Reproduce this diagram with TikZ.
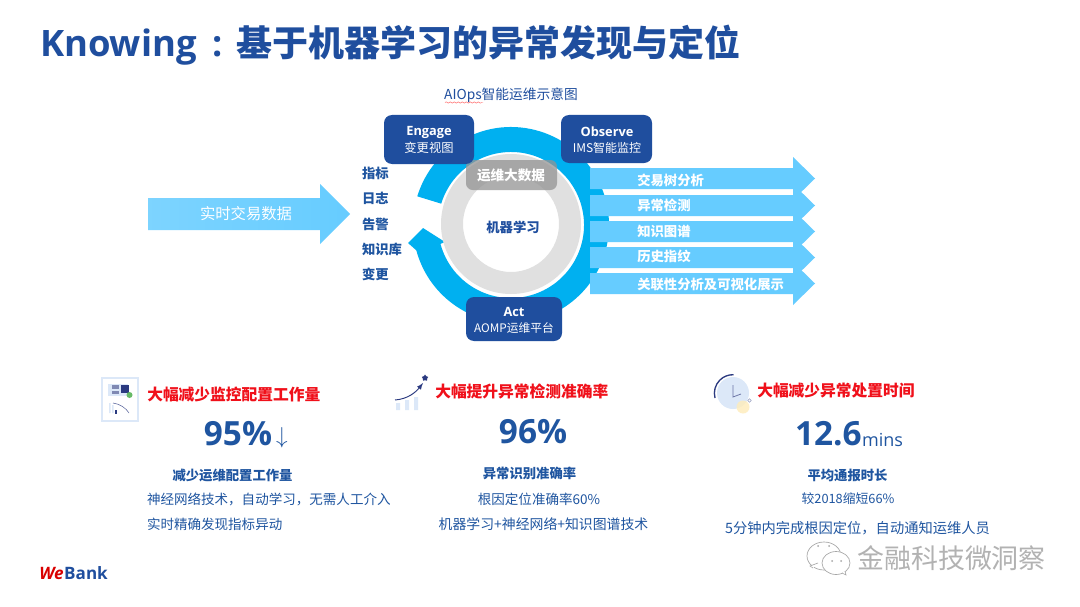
\documentclass[tikz,border=0pt]{standalone}
\usepackage{fontspec}
\setmainfont{Noto Sans CJK SC}
\newfontfamily\latf{Open Sans}
\usetikzlibrary{shapes.geometric,decorations.pathmorphing}
\definecolor{navy}{HTML}{1F4E9E}
\definecolor{txtblue}{HTML}{1F55A0}
\definecolor{ringblue}{HTML}{00B0F0}
\definecolor{arrowblue}{HTML}{66CCFF}
\definecolor{ringgray}{HTML}{E0E0E0}
\definecolor{redhead}{HTML}{F0101A}
\definecolor{paleblue}{HTML}{DCE8F8}
\definecolor{iconnavy}{HTML}{2B3A80}
\newcommand{\fsz}[1]{\fontsize{#1}{#1}\selectfont}
\tikzset{
  x=0.75pt,y=-0.75pt,
  lab/.style={inner sep=0pt,outer sep=0pt,text=txtblue},
  boxlab/.style={inner sep=0pt,text=white},
  listlab/.style={lab,anchor=west,font=\fsz{10}\bfseries},
  arrlab/.style={inner sep=0pt,anchor=west,text=white,font=\fsz{10}\bfseries},
  redlab/.style={inner sep=0pt,anchor=west,text=redhead,font=\fsz{11.8}\bfseries},
  biglab/.style={lab,font=\fsz{25}\latf\bfseries},
  sublab/.style={lab,font=\fsz{10}\bfseries},
  bodylab/.style={lab,font=\fsz{10.15}},
  bluebox/.style={fill=navy,rounded corners=6pt,draw=none},
}
\begin{document}
\begin{tikzpicture}
\useasboundingbox[fill=white] (0,0) rectangle (1080,606);

% title
\node[lab,anchor=base west,text=navy,font=\fsz{27.3}\latf\bfseries] (titlea) at (40,57) {Knowing};
\node[lab,anchor=base,text=navy,font=\fsz{27}\latf\bfseries] (titlecolon) at (218,57) {:};
\node[lab,anchor=base west,text=navy,font=\fsz{27}\bfseries] (titleb) at (236,57) {基于机器学习的异常发现与定位};
\node[lab,text=navy,font=\fsz{10.3}] (aiops) at (511,95) {AIOps智能运维示意图};
\draw[red!60,line width=0.35pt,decorate,decoration={snake,amplitude=0.5pt,segment length=3pt}] (445,102.5) -- (483,102.5);

% left input arrow
\path[left color=arrowblue!85!white,right color=arrowblue]
  (148,198) -- (320,198) -- (320,184) -- (350,214) -- (320,244) -- (320,230) -- (148,230) -- cycle;
\node[inner sep=0pt,text=white,font=\fsz{11.5}] (input) at (246,214) {实时交易数据};

\node[listlab] (l1) at (362,173) {指标};
\node[listlab] (l2) at (362,198) {日志};
\node[listlab] (l3) at (362,224) {告警};
\node[listlab] (l4) at (362,249) {知识库};
\node[listlab] (l5) at (362,274) {变更};

% blue cycle ring with arrow head
\begin{scope}[shift={(511,225)}]
  \fill[ringblue] (197:98) arc[start angle=197,end angle=525,radius=98]
    -- (-103,18) -- (-88,3) -- (-66,17) -- (525:73)
    arc[start angle=525,end angle=197,radius=73] -- cycle;
\end{scope}
% gray ring
\fill[ringgray,even odd rule] (511,224) circle (70) (511,224) circle (48);

\fill[gray!85,opacity=.75,rounded corners=5pt] (466,160) rectangle (557,190);
\node[boxlab,font=\fsz{10.2}\bfseries] (bigdata) at (511,175.5) {运维大数据};
\node[lab,text=navy,font=\fsz{10}\bfseries] (ml) at (513,227) {机器学习};

% right arrows
\foreach \t in {168,195,221,247,273}{
  \fill[arrowblue] (590,\t) -- (793,\t) -- (793,{\t-11}) -- (815,{\t+10.5}) -- (793,{\t+32}) -- (793,{\t+21}) -- (590,{\t+21}) -- cycle;
}
\node[arrlab] (r1) at (637,180) {交易树分析};
\node[arrlab] (r2) at (637,205) {异常检测};
\node[arrlab] (r3) at (637,231) {知识图谱};
\node[arrlab] (r4) at (637,256) {历史指纹};
\node[arrlab] (r5) at (637,284) {关联性分析及可视化展示};

% boxes
\fill[bluebox] (384,115) rectangle (474,164);
\fill[bluebox] (561,115) rectangle (652,163);
\fill[bluebox] (466,297) rectangle (562,341);
\node[boxlab,font=\fsz{9.6}\latf\bfseries] (e1) at (429,132) {Engage};
\node[boxlab,font=\fsz{9.2}] (e2) at (429,148) {变更视图};
\node[boxlab,font=\fsz{9.6}\latf\bfseries] (o1) at (607,131.5) {Observe};
\node[boxlab,font=\fsz{9}] (o2) at (607,148) {IMS智能监控};
\node[boxlab,font=\fsz{9.6}\latf\bfseries] (a1) at (514,311.5) {Act};
\node[boxlab,font=\fsz{8.8}] (a2) at (514,328) {AOMP运维平台};

% icon 1
\draw[paleblue,line width=.8pt,fill=white] (102,378) rectangle (138,421);
\fill[paleblue] (108,384) rectangle (128,396);
\fill[iconnavy!60] (112,385) rectangle (119,389);
\fill[iconnavy!60] (112,391) rectangle (119,394);
\fill[iconnavy] (121,385) rectangle (129,393);
\fill[green!55!black!60] (129.5,395) circle (3);
\fill[paleblue] (109,403) rectangle (110.5,413) (112,405) rectangle (113.5,413);
\fill[iconnavy] (115,410) rectangle (116.5,414);
\draw[iconnavy!80,line width=.4pt] (113,403) .. controls (120,404) and (126,408) .. (129,413);

% icon 2
\fill[paleblue] (396,403) rectangle (400,410) (405,400) rectangle (409,410) (414,397) rectangle (418,410);
\draw[iconnavy,line width=.7pt,-latex] (395,400) .. controls (408,399) and (416,392) .. (423,383);
\node[star,star points=5,fill=iconnavy,inner sep=0pt,minimum size=5pt] (stara) at (425,378) {};

% icon 3
\fill[paleblue] (733,393) circle (16);
\draw[iconnavy,line width=1pt] (715,398) arc[start angle=165,end angle=272,radius=18.5];
\draw[iconnavy!70,line width=.6pt] (733,385) -- (733,397) -- (741,394);
\fill[yellow!50!orange!25,opacity=.8] (743,407) circle (6.5);
\draw[iconnavy!50,fill=white,line width=.4pt] (749.5,400.5) circle (1.8);

% column 1
\node[redlab] (h1) at (147,394) {大幅减少监控配置工作量};
\node[biglab] (n1) at (238,434) {95\%};
\node[lab,font=\fsz{17}\latf] (n1b) at (282,438) {$\downarrow$};
\node[sublab] (s1) at (232.5,475) {减少运维配置工作量};
\node[bodylab,anchor=west] (b11) at (147,499) {神经网络技术，自动学习，无需人工介入};
\node[bodylab,anchor=west] (b12) at (147,524) {实时精确发现指标异动};

% column 2
\node[redlab] (h2) at (435,391) {大幅提升异常检测准确率};
\node[biglab] (n2) at (533,432) {96\%};
\node[sublab] (s2) at (529.5,473) {异常识别准确率};
\node[bodylab] (b21) at (539,499) {根因定位准确率60\%};
\node[bodylab,font=\fsz{10.4}] (b22) at (543.5,524) {机器学习+神经网络+知识图谱技术};

% column 3
\node[redlab] (h3) at (757,391) {大幅减少异常处置时间};
\node[biglab,anchor=west] (n3) at (795,434) {12.6};
\node[lab,anchor=west,font=\fsz{13.5}\latf] (n3b) at (862,440) {mins};
\node[sublab] (s3) at (847.5,475) {平均通报时长};
\node[bodylab,font=\fsz{9.6}] (b31) at (848,499) {较2018缩短66\%};
\node[bodylab,font=\fsz{10.7}] (b32) at (857.5,528) {5分钟内完成根因定位，自动通知运维人员};

% logo
\node[inner sep=0pt,anchor=west,text=red!85!black,font=\fsz{12.8}\latf\bfseries\itshape] (we) at (39,573.5) {We};
\node[inner sep=0pt,anchor=west,text=navy,font=\fsz{12.8}\latf\bfseries] (bank) at (we.east) {Bank};

% watermark
\draw[gray!70,fill=white,line width=.5pt] (824,556) ellipse (17 and 14);
\draw[gray!70,fill=white,line width=.5pt] (813,568) -- (810,566) -- (818,563);
\draw[gray!70,fill=white,line width=.5pt] (836,563) ellipse (14 and 11.5);
\draw[gray!70,fill=white,line width=.5pt] (842,573) -- (846,575) -- (845,571);
\fill[gray!70] (818,546) circle (1) (829,546) circle (1) (832,561) circle (1) (841,561) circle (1);
\node[inner sep=0pt,anchor=west,text=gray!60,font=\fsz{20.2}] (wm) at (857,558) {金融科技微洞察};
\end{tikzpicture}
\end{document}
